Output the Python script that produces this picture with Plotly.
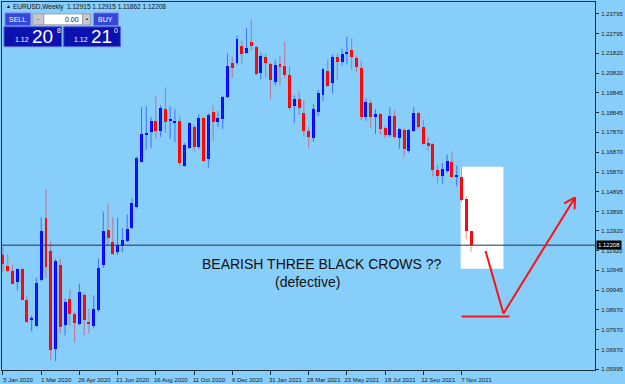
import pandas as pd
import plotly.graph_objects as go

# ---------------- data (EURUSD weekly) ----------------
opens = [1.1172, 1.1117, 1.1092, 1.1038, 1.1102, 1.0948, 1.0848, 1.0814, 1.1048, 1.1356,
         1.1192, 1.0700, 1.1122, 1.0819, 1.0953, 1.0874, 1.0824, 1.0973, 1.0834, 1.0814,
         1.0898, 1.1122, 1.1296, 1.1236, 1.1187, 1.1216, 1.1241, 1.1306, 1.1410, 1.1639,
         1.1773, 1.1788, 1.1843, 1.1793, 1.1902, 1.1845, 1.1833, 1.1843, 1.1619, 1.1708,
         1.1813, 1.1713, 1.1858, 1.1654, 1.1887, 1.1838, 1.1853, 1.1962, 1.2136, 1.2136,
         1.2220, 1.2186, 1.2240, 1.2215, 1.2081, 1.2166, 1.2131, 1.2036, 1.2131, 1.2116,
         1.2071, 1.1917, 1.1952, 1.1882, 1.1793, 1.1758, 1.1887, 1.1972, 1.2091, 1.2031,
         1.2166, 1.2141, 1.2181, 1.2200, 1.2161, 1.2106, 1.1863, 1.1932, 1.1863, 1.1878,
         1.1808, 1.1773, 1.1868, 1.1758, 1.1798, 1.1694, 1.1793, 1.1882, 1.1813, 1.1733,
         1.1728, 1.1599, 1.1569, 1.1594, 1.1639, 1.1564, 1.1564, 1.1450, 1.12915]
highs = [1.1211, 1.1177, 1.1122, 1.1105, 1.1105, 1.0963, 1.0868, 1.1057, 1.1361, 1.1500,
         1.1241, 1.1152, 1.1152, 1.0953, 1.0998, 1.0888, 1.1028, 1.0983, 1.0903, 1.0968,
         1.1152, 1.1390, 1.1430, 1.1361, 1.1356, 1.1306, 1.1375, 1.1455, 1.1664, 1.1912,
         1.1917, 1.1863, 1.1967, 1.1922, 1.2012, 1.1917, 1.1902, 1.1868, 1.1733, 1.1838,
         1.1828, 1.1877, 1.1863, 1.1882, 1.1922, 1.1892, 1.1967, 1.2181, 1.2166, 1.2270,
         1.2245, 1.2310, 1.2350, 1.2220, 1.2186, 1.2181, 1.2136, 1.2151, 1.2171, 1.2240,
         1.2116, 1.1972, 1.1992, 1.1947, 1.1813, 1.1927, 1.1997, 1.2106, 1.2151, 1.2176,
         1.2181, 1.2205, 1.2265, 1.2255, 1.2171, 1.2146, 1.1957, 1.1947, 1.1902, 1.1882,
         1.1818, 1.1912, 1.1897, 1.1808, 1.1808, 1.1803, 1.1912, 1.1887, 1.1848, 1.1763,
         1.1733, 1.1624, 1.1634, 1.1674, 1.1689, 1.1619, 1.1614, 1.1465, 1.12915]
lows = [1.1087, 1.1087, 1.1023, 1.0993, 1.0943, 1.0830, 1.0789, 1.0812, 1.1038, 1.1057,
        1.0645, 1.0640, 1.0779, 1.0769, 1.0819, 1.0734, 1.0819, 1.0769, 1.0779, 1.0804,
        1.0888, 1.1107, 1.1216, 1.1172, 1.1172, 1.1187, 1.1236, 1.1301, 1.1405, 1.1634,
        1.1699, 1.1708, 1.1753, 1.1763, 1.1783, 1.1753, 1.1738, 1.1614, 1.1614, 1.1703,
        1.1689, 1.1703, 1.1639, 1.1609, 1.1743, 1.1813, 1.1803, 1.1957, 1.2061, 1.2126,
        1.2131, 1.2181, 1.2196, 1.2071, 1.2051, 1.2061, 1.1952, 1.2021, 1.2021, 1.2056,
        1.1897, 1.1833, 1.1872, 1.1763, 1.1708, 1.1738, 1.1868, 1.1942, 1.2012, 1.1982,
        1.2046, 1.2121, 1.2126, 1.2101, 1.2086, 1.1848, 1.1843, 1.1808, 1.1778, 1.1773,
        1.1758, 1.1763, 1.1753, 1.1703, 1.1664, 1.1684, 1.1788, 1.1803, 1.1723, 1.1694,
        1.1564, 1.1530, 1.1530, 1.1584, 1.1559, 1.1515, 1.1435, 1.1251, 1.11862]
closes = [1.1127, 1.1092, 1.1028, 1.1102, 1.0948, 1.0834, 1.0853, 1.1033, 1.1291, 1.1112,
          1.0695, 1.1142, 1.0809, 1.0938, 1.0874, 1.0829, 1.0988, 1.0844, 1.0824, 1.0903,
          1.1107, 1.1291, 1.1256, 1.1177, 1.1221, 1.1246, 1.1301, 1.1430, 1.1659, 1.1778,
          1.1783, 1.1843, 1.1793, 1.1907, 1.1838, 1.1848, 1.1843, 1.1634, 1.1723, 1.1833,
          1.1713, 1.1858, 1.1644, 1.1872, 1.1838, 1.1858, 1.1962, 1.2116, 1.2106, 1.2255,
          1.2181, 1.2210, 1.2220, 1.2076, 1.2171, 1.2136, 1.2046, 1.2121, 1.2111, 1.2071,
          1.1907, 1.1952, 1.1907, 1.1793, 1.1763, 1.1902, 1.1982, 1.2101, 1.2017, 1.2166,
          1.2141, 1.2181, 1.2191, 1.2166, 1.2111, 1.1863, 1.1937, 1.1863, 1.1878, 1.1803,
          1.1773, 1.1868, 1.1763, 1.1803, 1.1703, 1.1798, 1.1882, 1.1813, 1.1728, 1.1718,
          1.1599, 1.1569, 1.1604, 1.1644, 1.1564, 1.1569, 1.1445, 1.1291, 1.12208]

first_week = "2020-01-05"
price_ticks = [1.23795, 1.22795, 1.21820, 1.20820, 1.19845, 1.18845, 1.17870, 1.16870,
               1.15870, 1.14895, 1.13895, 1.12920, 1.11920, 1.10945, 1.09945, 1.08970,
               1.07970, 1.06970, 1.05995]
info_text = "EURUSD,Weekly  1.12915 1.12915 1.11862 1.12208"

# ---------------- layout geometry ----------------
W, H = 625, 384
PL, PR, PT, PB = 1, 597, 1, 372  # plot-area pixel edges
WEEK_PX = 4.8


def px(x):
    return (x - PL) / (PR - PL)


def py(y):
    return (PB - y) / (PB - PT)


dates = pd.date_range(start=first_week, periods=len(opens), freq="7D")
date_ticks = list(dates[::8])
week = pd.Timedelta(days=7)
x_start = dates[0] - week * ((2 - PL) / WEEK_PX)
x_end = dates[0] + week * ((PR - 2) / WEEK_PX)
y_top = 1.23795 + (13 - PT) * 0.000497
y_bot = 1.23795 - (PB - 13) * 0.000497

BLUE = "#0000ff"
RED = "#ff0000"

inc = [c >= o for o, c in zip(opens, closes)]

fig = go.Figure()

# wicks
for flag, col in [(True, "rgba(20,60,255,0.62)"), (False, "rgba(235,40,60,0.55)")]:
    xs, ys = [], []
    for d, h, l, f in zip(dates, highs, lows, inc):
        if f == flag:
            xs += [d, d, None]
            ys += [h, l, None]
    fig.add_trace(go.Scatter(x=xs, y=ys, mode="lines", line=dict(color=col, width=1),
                             hoverinfo="skip", showlegend=False))

# bodies
bw = week.total_seconds() * 1000 * 0.62
for flag, col in [(True, BLUE), (False, RED)]:
    bx, bb, bh = [], [], []
    for d, o, c, f in zip(dates, opens, closes, inc):
        if f == flag:
            bx.append(d)
            bb.append(min(o, c))
            bh.append(max(abs(c - o), 0.0004))
    fig.add_trace(go.Bar(x=bx, y=bh, base=bb, width=bw, marker=dict(color=col, line=dict(width=0)),
                         showlegend=False, hoverinfo="skip"))

shapes = []
# white highlight box (behind candles)
shapes.append(dict(type="rect", xref="paper", yref="paper", x0=px(462), x1=px(505), y0=py(270), y1=py(167),
                   fillcolor="white", line=dict(width=0), layer="below"))
# current price line
shapes.append(dict(type="line", xref="paper", yref="y", x0=0, x1=1, y0=closes[-1], y1=closes[-1],
                   line=dict(color="#243444", width=1)))
# red hand-drawn arrow
RL = dict(color="#ff1010", width=2)
for (x0, y0, x1, y1) in [(487, 252, 505, 315), (505, 315, 577, 198), (577, 198, 566, 204),
                         (577, 198, 576.5, 210), (463, 318, 511, 318)]:
    shapes.append(dict(type="line", xref="paper", yref="paper", x0=px(x0), y0=py(y0), x1=px(x1), y1=py(y1),
                       line=RL))

# one-click trading panel
def rect(x0, y0, x1, y1, fill, line="rgba(0,0,0,0)", lw=0):
    shapes.append(dict(type="rect", xref="paper", yref="paper", x0=px(x0), x1=px(x1), y0=py(y1), y1=py(y0),
                       fillcolor=fill, line=dict(color=line, width=lw)))

rect(4, 12, 30, 25, "#3447d6", "#7f8fe8", 1)          # SELL
rect(32, 13, 43, 24, "#c8c8cc", "#a0a0a8", 1)        # -
rect(43, 13, 82, 24, "#ffffff", "#a0a0a8", 1)        # field
rect(82, 13, 90, 24, "#c8c8cc", "#a0a0a8", 1)        # +
rect(93, 12, 118, 25, "#3447d6", "#7f8fe8", 1)       # BUY
rect(3, 26, 61, 46, "#0b12b0", "#5060e0", 1)         # sell price
rect(63, 26, 120, 46, "#0b12b0", "#5060e0", 1)       # buy price

annotations = []


def txt(x, y, s, size, color="black", xanchor="left", yanchor="middle", family="Liberation Sans"):
    annotations.append(dict(xref="paper", yref="paper", x=px(x), y=py(y), text=s, showarrow=False,
                            xanchor=xanchor, yanchor=yanchor, font=dict(size=size, color=color, family=family)))


txt(3, 5.5, "▲", 5)
txt(10, 6, info_text, 6.5, "#111111")
txt(17, 18.5, "SELL", 7, "white", "center")
txt(37.5, 18, "-", 7, "#333", "center")
txt(80, 18.5, "0.00", 7, "#111", "right")
txt(86, 18, "▲", 4, "#333", "center")
txt(105.5, 18.5, "BUY", 7, "white", "center")
txt(12, 39, "1.12", 7, "white")
txt(29, 36, "20", 19, "white")
txt(54, 30, "8", 7, "white")
txt(71, 39, "1.12", 7, "white")
txt(88, 36, "21", 19, "white")
txt(112, 30, "0", 7, "white")

txt(323, 265, "BEARISH THREE BLACK CROWS ??", 14, "#111111", "center")
txt(308, 283, "(defective)", 14, "#111111", "center")

# price label on the axis
annotations.append(dict(xref="paper", yref="y", x=px(598), y=closes[-1], text="1.12208", showarrow=False,
                        xanchor="left", yanchor="middle", bgcolor="black", borderpad=1,
                        font=dict(size=6, color="white", family="Liberation Sans")))

fig.update_layout(
    width=W, height=H,
    margin=dict(l=PL, r=W - PR, t=PT, b=H - PB, pad=0),
    paper_bgcolor="#87cefa", plot_bgcolor="#87cefa",
    barmode="overlay", bargap=0,
    showlegend=False,
    shapes=shapes, annotations=annotations,
    font=dict(family="Liberation Sans", size=6, color="#1a1a1a"),
)
fig.update_xaxes(
    type="date", range=[x_start, x_end], showgrid=False, zeroline=False,
    showline=True, linecolor="#1f3040", linewidth=1, mirror=True,
    tickvals=date_ticks, tickformat="%-d %b %Y",
    ticks="outside", ticklen=4, tickcolor="#1f3040", tickfont=dict(size=6, color="#1a1a1a"),
    ticklabelshift=15, ticklabelstandoff=0, fixedrange=True,
)
fig.update_yaxes(
    range=[y_bot, y_top], side="right", showgrid=False, zeroline=False,
    showline=True, linecolor="#1f3040", linewidth=1, mirror=True,
    tickvals=price_ticks, ticktext=[f"{v:.5f}" for v in price_ticks],
    ticks="outside", ticklen=3, tickcolor="#1f3040", tickfont=dict(size=6, color="#1a1a1a"),
    ticklabelstandoff=1, fixedrange=True,
)

fig.write_html("out.html", config={"displayModeBar": False})
